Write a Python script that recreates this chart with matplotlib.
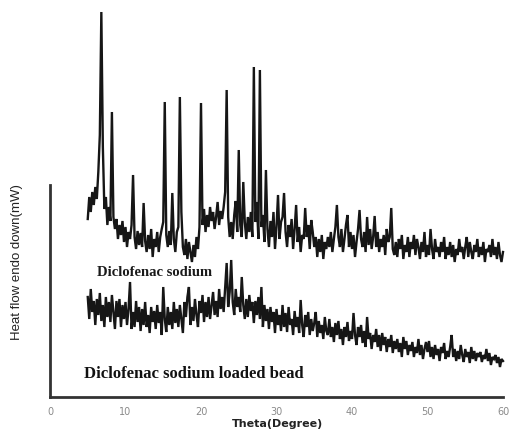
import numpy as np
import matplotlib
matplotlib.use("Agg")
import matplotlib.pyplot as plt

# 2-theta grid (degrees) shared by both diffractograms
theta_start, theta_stop, theta_step = 5.0, 60.0, 0.2

# Diclofenac sodium (pure drug) intensity, arbitrary units
sodium = [
    178, 200, 185, 205, 192,
    210, 198, 225, 262, 385,
    250, 188, 200, 172, 190,
    176, 285, 180, 168, 178,
    158, 172, 162, 176, 155,
    170, 150, 165, 158, 172,
    222, 160, 148, 166, 152,
    164, 150, 194, 156, 145,
    162, 148, 168, 140, 158,
    150, 165, 145, 160, 168,
    175, 295, 162, 150, 166,
    152, 204, 158, 145, 165,
    170, 300, 185, 150, 142,
    158, 138, 155, 145, 135,
    152, 140, 160, 148, 170,
    294, 172, 188, 165, 182,
    170, 190, 176, 185, 168,
    180, 195, 172, 186, 178,
    190, 205, 307, 180, 160,
    175, 158, 182, 196, 165,
    247, 172, 160, 215, 175,
    158, 180, 165, 185, 160,
    330, 175, 195, 158, 327,
    170, 182, 155, 227, 168,
    150, 176, 160, 185, 148,
    170, 202, 158, 175, 180,
    204, 165, 150, 172, 160,
    178, 148, 168, 192, 155,
    170, 145, 162, 158, 189,
    160, 172, 148, 177, 165,
    150, 160, 140, 158, 145,
    162, 138, 155, 148, 160,
    150, 165, 145, 158, 170,
    192, 160, 150, 168, 145,
    158, 172, 182, 150, 165,
    148, 162, 140, 155, 168,
    187, 158, 150, 165, 145,
    180, 152, 168, 148, 160,
    181, 150, 165, 145, 158,
    150, 162, 142, 168, 155,
    160, 189, 148, 142, 155,
    140, 158, 148, 162, 138,
    152, 145, 160, 140, 155,
    148, 162, 142, 158, 150,
    138, 155, 145, 165, 140,
    152, 142, 168, 148, 138,
    158, 145, 150, 140, 155,
    145, 160, 138, 150, 142,
    155, 140, 152, 135, 148,
    142, 158, 145, 150, 138,
    150, 160, 140, 155, 145,
    138, 152, 145, 158, 140,
    150, 142, 155, 135, 148,
    145, 152, 140, 158, 142,
    150, 138, 155, 142, 135,
    145,
]

# Diclofenac sodium loaded bead intensity, arbitrary units
loaded_bead = [
    100, 78, 108, 85, 96,
    72, 98, 82, 104, 76,
    92, 70, 100, 80, 95,
    75, 102, 85, 68, 96,
    80, 98, 70, 92, 78,
    95, 72, 88, 115, 68,
    85, 70, 96, 75, 90,
    66, 88, 72, 95, 70,
    82, 64, 90, 75, 86,
    68, 92, 74, 85, 62,
    110, 78, 65, 90, 72,
    85, 68, 95, 74, 88,
    70, 92, 78, 64, 95,
    80, 100, 110, 72, 90,
    76, 98, 82, 70, 96,
    84, 102, 75, 95, 80,
    100, 78, 92, 105, 82,
    96, 80, 108, 88, 100,
    85, 110, 134, 90, 105,
    137, 95, 82, 108, 90,
    100, 85, 120, 92, 78,
    98, 80, 102, 86, 95,
    74, 96, 82, 100, 78,
    110, 70, 92, 76, 88,
    68, 90, 75, 85, 64,
    88, 72, 82, 66, 92,
    70, 84, 65, 90, 72,
    78, 62, 86, 70, 80,
    64, 97, 72, 60, 82,
    70, 85, 62, 78, 66,
    74, 85, 60, 76, 64,
    72, 58, 80, 66, 62,
    78, 60, 70, 55, 74,
    62, 76, 58, 68, 52,
    70, 60, 75, 56, 66,
    58, 84, 62, 52, 70,
    60, 72, 54, 66, 50,
    80, 58, 64, 48, 62,
    55, 68, 50, 62, 46,
    64, 52, 60, 45, 58,
    50, 62, 44, 56, 48,
    58, 45, 54, 40, 60,
    48, 56, 42, 52, 46,
    55, 40, 50, 44, 58,
    42, 52, 38, 48, 55,
    45, 56, 40, 50, 38,
    52, 42, 48, 36, 50,
    44, 54, 38, 46, 40,
    50, 62, 40, 48, 36,
    46, 38, 52, 42, 35,
    48, 40, 45, 34, 50,
    38, 46, 36, 44, 40,
    45, 35, 42, 38, 48,
    36, 44, 32, 40, 38,
    42, 34, 40, 30, 38,
    36,
]

x_ticks = [0, 10, 20, 30, 40, 50, 60]
x_tick_labels = ["0", "10", "20", "30", "40", "50", "60"]

theta = theta_start + theta_step * np.arange(len(sodium))

fig = plt.figure(figsize=(5.12, 4.33), dpi=100)
ax = fig.add_axes([50 / 512, 36 / 433, 453 / 512, 392 / 433])

trace_kw = dict(color="#161616", lw=1.7, clip_on=False, solid_joinstyle="miter")
ax.plot(theta, sodium, **trace_kw)
ax.plot(theta, loaded_bead, **trace_kw)

ax.set_xlim(0, 60)
ax.set_ylim(0, 392)

for side in ("top", "right"):
    ax.spines[side].set_visible(False)
ax.spines["left"].set_bounds(0, 212)
ax.spines["left"].set_linewidth(2.0)
ax.spines["bottom"].set_linewidth(2.0)
ax.spines["left"].set_color("#333333")
ax.spines["bottom"].set_color("#333333")

ax.set_yticks([])
ax.set_xticks(x_ticks)
ax.set_xticklabels(x_tick_labels, fontsize=7, color="#8a8a8a",
                   family="DejaVu Sans")
ax.tick_params(axis="x", length=0, pad=7)

fig.text(277 / 512, 1 - 424 / 433, "Theta(Degree)", ha="center", va="center",
         fontsize=8, fontweight="bold", family="DejaVu Sans", color="#222222")
fig.text(17 / 512, 1 - 262 / 433, "Heat flow endo down(mW)", rotation=90,
         ha="center", va="center", fontsize=9.5, family="Liberation Sans",
         color="#222222")

ax.text(6.2, 125, "Diclofenac sodium", ha="left", va="center",
        fontsize=10.5, fontweight="bold", family="Liberation Serif",
        color="#1a1a1a")
ax.text(4.5, 23, "Diclofenac sodium loaded bead", ha="left", va="center",
        fontsize=12, fontweight="bold", family="Liberation Serif",
        color="#111111")

fig.savefig("out.png", dpi=100)
